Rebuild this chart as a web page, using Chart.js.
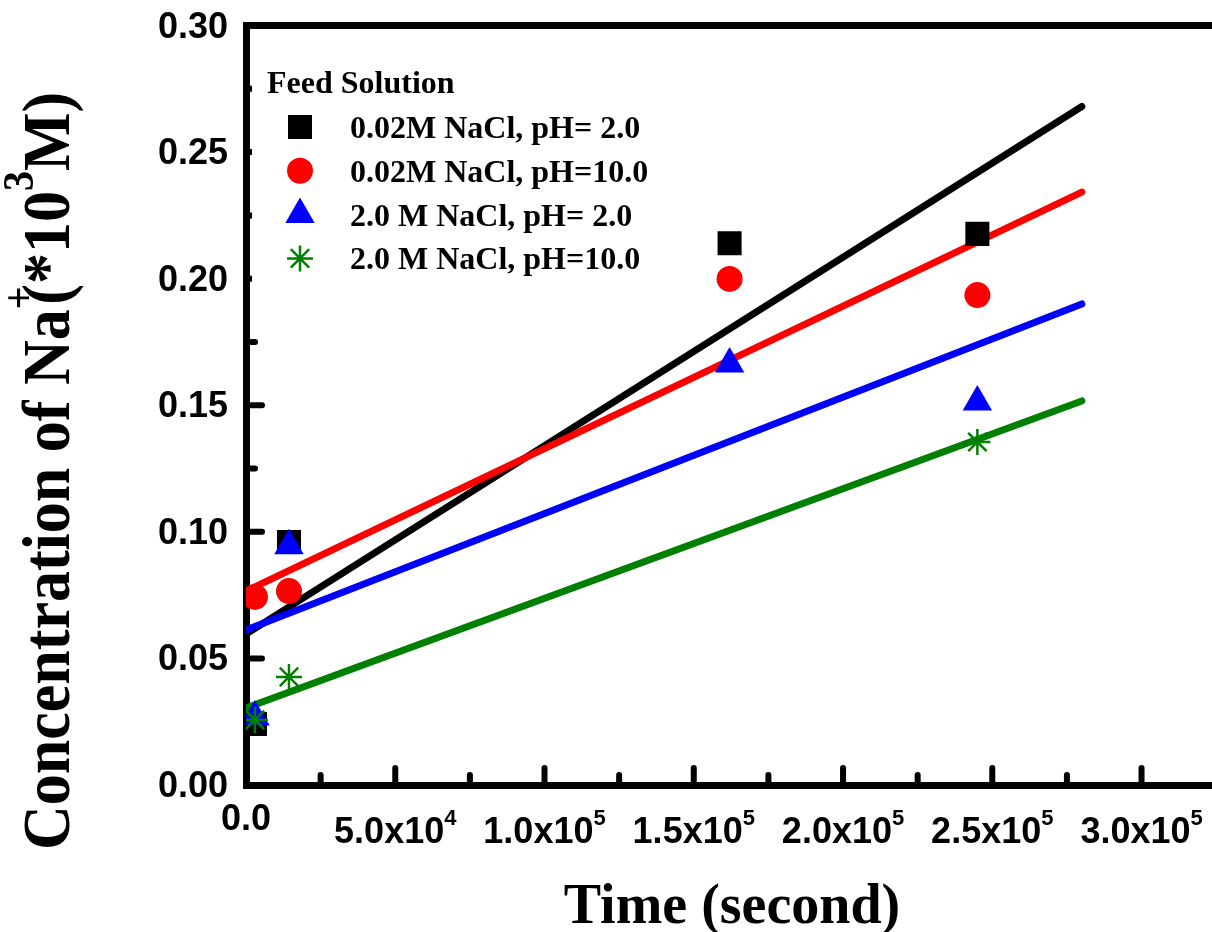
<!DOCTYPE html>
<html>
<head>
<meta charset="utf-8">
<script src="https://cdn.jsdelivr.net/npm/chart.js@4.4.1/dist/chart.umd.min.js"></script>
<style>
  html, body { margin: 0; padding: 0; background: #fff; overflow: hidden; }
</style>
</head>
<body>
<canvas id="chart" width="1212" height="932"></canvas>
<script>
// measured sample times (s) and Na+ concentrations (*10^3 M)
const sampleTimes = [3000, 14400, 162000, 245000];
const lowSaltPH2 = [0.0241, 0.0960, 0.2140, 0.2177];
const lowSaltPH10 = [0.0743, 0.0766, 0.1999, 0.1935];
const highSaltPH2 = [0.0269, 0.0945, 0.1663, 0.1513];
const highSaltPH10 = [0.0257, 0.0427, null, 0.1355];

// linear fit lines, start / end
const fitTimes = [0, 280000];
const fitLowSaltPH2 = [0.0596, 0.2680];
const fitLowSaltPH10 = [0.0766, 0.2342];
const fitHighSaltPH2 = [0.0612, 0.1900];
const fitHighSaltPH10 = [0.0304, 0.1517];

const seriesNames = ['0.02M NaCl, pH= 2.0', '0.02M NaCl, pH=10.0', '2.0 M NaCl, pH= 2.0', '2.0 M NaCl, pH=10.0'];
const seriesColors = ['#000000', '#ff0000', '#0000ff', '#008000'];
const seriesMarkers = ['rect', 'circle', 'triangle', 'star'];
const markerSizes = [17, 13, 17, 13];

const yTicks = [0, 0.05, 0.10, 0.15, 0.20, 0.25, 0.30];
const yTickLabels = ['0.00', '0.05', '0.10', '0.15', '0.20', '0.25', '0.30'];
const yMinorTicks = [0.025, 0.075, 0.125, 0.175, 0.225, 0.275];
const xTicks = [0, 50000, 100000, 150000, 200000, 250000, 300000];
const xTickMain = ['0.0', '5.0x10', '1.0x10', '1.5x10', '2.0x10', '2.5x10', '3.0x10'];
const xTickExp = ['', '4', '5', '5', '5', '5', '5'];
const xMinorTicks = [25000, 75000, 125000, 175000, 225000, 275000, 325000];

const SANS = '"Liberation Sans", Arial, sans-serif';
const SERIF = '"Liberation Serif", "Times New Roman", serif';

const pointSets = [lowSaltPH2, lowSaltPH10, highSaltPH2, highSaltPH10];
const fitSets = [fitLowSaltPH2, fitLowSaltPH10, fitHighSaltPH2, fitHighSaltPH10];

const datasets = [];
fitSets.forEach((f, i) => {
    datasets.push({
        type: 'line',
        data: fitTimes.map((t, k) => ({ x: t, y: f[k] })),
        borderColor: seriesColors[i],
        borderWidth: 7,
        borderCapStyle: 'round',
        pointRadius: 0,
        fill: false,
        order: 20 - i
    });
});
pointSets.forEach((p, i) => {
    datasets.push({
        type: 'scatter',
        data: sampleTimes.map((t, k) => ({ x: t, y: p[k] })).filter(d => d.y !== null),
        pointStyle: seriesMarkers[i],
        pointRadius: markerSizes[i],
        pointHoverRadius: markerSizes[i],
        backgroundColor: seriesColors[i],
        borderColor: seriesColors[i],
        pointBorderWidth: seriesMarkers[i] === 'star' ? 2.5 : 0,
        order: 10 - i
    });
});

function drawSupText(ctx, parts, x, y, align) {
    // parts: [text, size, dy, advanceFactor, family]
    let total = 0;
    parts.forEach(p => {
        ctx.font = 'bold ' + p[1] + 'px ' + p[4];
        total += ctx.measureText(p[0]).width * p[3];
    });
    let cx = align === 'center' ? x - total / 2 : x;
    ctx.textAlign = 'left';
    ctx.textBaseline = 'alphabetic';
    parts.forEach(p => {
        ctx.font = 'bold ' + p[1] + 'px ' + p[4];
        ctx.fillText(p[0], cx, y + p[2]);
        cx += ctx.measureText(p[0]).width * p[3];
    });
}

const axisDecor = {
    id: 'axisDecor',
    beforeDatasetsDraw(chart) {
        const ctx = chart.ctx;
        const xs = chart.scales.x, ys = chart.scales.y;
        const x0 = xs.getPixelForValue(0), y0 = ys.getPixelForValue(0);
        ctx.save();
        ctx.strokeStyle = '#000';
        ctx.lineWidth = 6;
        ctx.lineCap = 'round';
        const tick = (ax, ay, bx, by) => { ctx.beginPath(); ctx.moveTo(ax, ay); ctx.lineTo(bx, by); ctx.stroke(); };
        yTicks.forEach(v => { const py = ys.getPixelForValue(v); if (v > 0 && v < 0.3) tick(x0, py, x0 + 16, py); });
        yMinorTicks.forEach(v => { const py = ys.getPixelForValue(v); tick(x0, py, x0 + 9, py); });
        xTicks.forEach(v => { const px = xs.getPixelForValue(v); if (v > 0) tick(px, y0, px, y0 - 17); });
        xMinorTicks.forEach(v => { const px = xs.getPixelForValue(v); if (px < chart.width) tick(px, y0, px, y0 - 10); });
        ctx.restore();
    },
    afterDraw(chart) {
        const ctx = chart.ctx;
        const xs = chart.scales.x, ys = chart.scales.y;
        const x0 = xs.getPixelForValue(0), y0 = ys.getPixelForValue(0);
        ctx.save();
        ctx.fillStyle = '#000';

        // y tick labels
        ctx.font = 'bold 36px ' + SANS;
        ctx.textAlign = 'right';
        ctx.textBaseline = 'alphabetic';
        yTicks.forEach((v, i) => ctx.fillText(yTickLabels[i], x0 - 18, ys.getPixelForValue(v) + 12));

        // x tick labels with exponent
        xTicks.forEach((v, i) => {
            const px = xs.getPixelForValue(v);
            if (xTickExp[i]) {
                drawSupText(ctx, [[xTickMain[i], 36, 0, 1, SANS], [xTickExp[i], 22, -18, 1, SANS]], px, y0 + 58, 'center');
            } else {
                drawSupText(ctx, [[xTickMain[i], 36, 0, 1, SANS]], px, y0 + 45, 'center');
            }
        });

        // axis titles
        ctx.font = 'bold 56px ' + SERIF;
        ctx.textAlign = 'center';
        ctx.fillText('Time (second)', 732, 923);

        ctx.save();
        ctx.translate(69, 471);
        ctx.rotate(-Math.PI / 2);
        ctx.scale(1, 1.1);
        drawSupText(ctx, [
            ['Concentration of Na', 62, 0, 1, SERIF],
            ['+', 40, -33, 0.2, SERIF],
            ['(*10', 62, 0, 1, SERIF],
            ['3', 40, -33, 1, SERIF],
            ['M)', 62, 0, 1, SERIF]
        ], 0, 0, 'center');
        ctx.restore();

        // legend box (opaque, hides ticks underneath)
        ctx.fillStyle = '#fff';
        ctx.fillRect(252, 55, 410, 235);
        ctx.fillStyle = '#000';
        ctx.font = 'bold 32px ' + SERIF;
        ctx.textAlign = 'left';
        ctx.fillText('Feed Solution', 267, 93);
        seriesNames.forEach((name, i) => {
            const cy = 127 + i * 43.8;
            ctx.fillStyle = seriesColors[i];
            ctx.strokeStyle = seriesColors[i];
            ctx.lineWidth = 2.5;
            Chart.helpers.drawPoint(ctx, {
                pointStyle: seriesMarkers[i],
                radius: markerSizes[i],
                rotation: 0,
                borderWidth: seriesMarkers[i] === 'star' ? 2.5 : 0
            }, 300, cy);
            ctx.fillStyle = '#000';
            ctx.font = 'bold 32px ' + SERIF;
            ctx.fillText(name, 350, cy + 11);
        });
        ctx.restore();
    }
};

new Chart(document.getElementById('chart'), {
    data: { datasets },
    options: {
        responsive: false,
        animation: false,
        events: [],
        layout: { autoPadding: false, padding: { left: 246, top: 25.5, right: 0, bottom: 147 } },
        plugins: { legend: { display: false }, tooltip: { enabled: false } },
        scales: {
            x: {
                type: 'linear', position: 'bottom', min: 0, max: 323600,
                grid: { display: false, drawTicks: false },
                ticks: { display: false },
                border: { display: true, width: 7, color: '#000' }
            },
            x2: {
                type: 'linear', position: 'top', min: 0, max: 323600,
                grid: { display: false, drawTicks: false },
                ticks: { display: false },
                border: { display: true, width: 7, color: '#000' }
            },
            y: {
                type: 'linear', position: 'left', min: 0, max: 0.30,
                grid: { display: false, drawTicks: false },
                ticks: { display: false },
                border: { display: true, width: 7, color: '#000' }
            }
        }
    },
    plugins: [axisDecor]
});
</script>
</body>
</html>
